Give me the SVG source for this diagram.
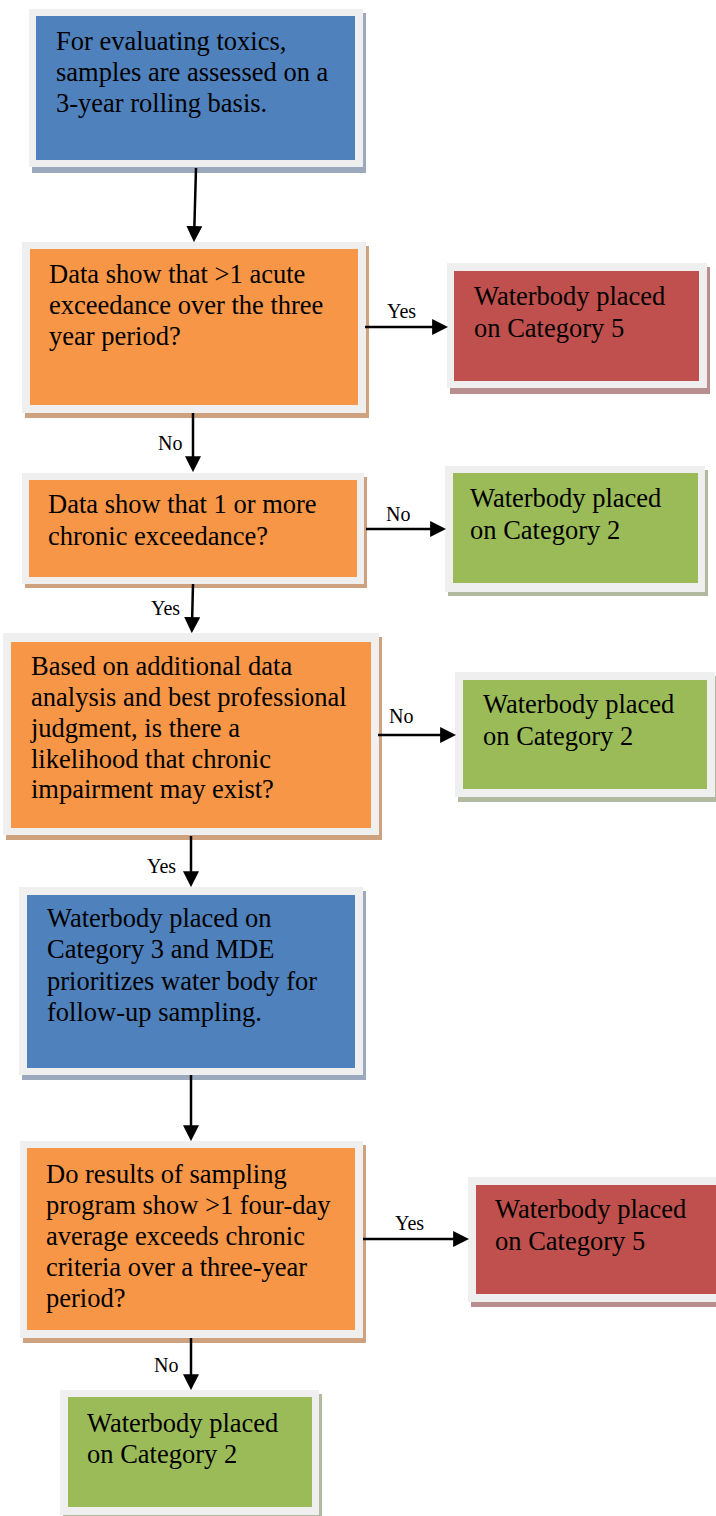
<svg xmlns="http://www.w3.org/2000/svg" width="716" height="1516" viewBox="0 0 716 1516">
<defs>
<style>
.frame{fill:#efefef}
.t{font-family:"Liberation Serif","DejaVu Serif",serif;font-size:26.5px;fill:#000}
.lb{font-family:"Liberation Serif","DejaVu Serif",serif;font-size:20px;fill:#000}
.blue{fill:#4f81bd}.blueS{fill:#9ba8bd}
.orange{fill:#f79646}.orangeS{fill:#cfa27f}
.red{fill:#c0504d}.redS{fill:#b98e8e}
.green{fill:#9bbb59}.greenS{fill:#b1b99e}
.c{stroke:#000;stroke-width:2.5;fill:none;marker-end:url(#ah)}
</style>
<marker id="ah" markerUnits="userSpaceOnUse" markerWidth="16" markerHeight="16" viewBox="0 0 14 14" refX="6" refY="7" orient="auto">
<path d="M0,0 L14,7 L0,14 z" fill="#000"/>
</marker>
</defs>
<rect width="716" height="1516" fill="#fff"/>

<g id="n1">
<rect class="blueS" x="32" y="13" width="334" height="160"/>
<rect class="frame" x="29" y="9" width="334" height="158"/>
<rect class="blue" x="36" y="16" width="319" height="144"/>
<text class="t" x="56" y="50">For evaluating toxics,</text>
<text class="t" x="56" y="81">samples are assessed on a</text>
<text class="t" x="56" y="112">3-year rolling basis.</text>
</g>

<g id="n2">
<rect class="orangeS" x="25" y="246" width="344" height="172"/>
<rect class="frame" x="22" y="242" width="344" height="171"/>
<rect class="orange" x="30" y="249" width="328" height="156"/>
<text class="t" x="49" y="283">Data show that &gt;1 acute</text>
<text class="t" x="49" y="314">exceedance over the three</text>
<text class="t" x="49" y="345">year period?</text>
</g>

<g id="n3">
<rect class="redS" x="450" y="267" width="260" height="127"/>
<rect class="frame" x="447" y="263" width="260" height="125"/>
<rect class="red" x="454" y="271" width="245" height="110"/>
<text class="t" x="474" y="305">Waterbody placed</text>
<text class="t" x="474" y="337">on Category 5</text>
</g>

<g id="n4">
<rect class="orangeS" x="25" y="477" width="342" height="111"/>
<rect class="frame" x="22" y="473" width="342" height="111"/>
<rect class="orange" x="29" y="480" width="328" height="97"/>
<text class="t" x="48" y="513">Data show that 1 or more</text>
<text class="t" x="48" y="545">chronic exceedance?</text>
</g>

<g id="n5">
<rect class="greenS" x="448" y="470" width="260" height="126"/>
<rect class="frame" x="445" y="466" width="260" height="126"/>
<rect class="green" x="453" y="473" width="245" height="110"/>
<text class="t" x="470" y="507">Waterbody placed</text>
<text class="t" x="470" y="539">on Category 2</text>
</g>

<g id="n6">
<rect class="orangeS" x="6" y="637" width="376" height="203"/>
<rect class="frame" x="3" y="633" width="376" height="202"/>
<rect class="orange" x="11" y="642" width="360" height="186"/>
<text class="t" x="31" y="675">Based on additional data</text>
<text class="t" x="31" y="706">analysis and best professional</text>
<text class="t" x="31" y="737">judgment, is there a</text>
<text class="t" x="31" y="768">likelihood that chronic</text>
<text class="t" x="31" y="798">impairment may exist?</text>
</g>

<g id="n7">
<rect class="greenS" x="458" y="676" width="260" height="126"/>
<rect class="frame" x="455" y="672" width="260" height="125"/>
<rect class="green" x="463" y="680" width="244" height="109"/>
<text class="t" x="483" y="713">Waterbody placed</text>
<text class="t" x="483" y="745">on Category 2</text>
</g>

<g id="n8">
<rect class="blueS" x="22" y="891" width="344" height="189"/>
<rect class="frame" x="19" y="887" width="344" height="188"/>
<rect class="blue" x="27" y="895" width="328" height="173"/>
<text class="t" x="47" y="927">Waterbody placed on</text>
<text class="t" x="47" y="958">Category 3 and MDE</text>
<text class="t" x="47" y="990">prioritizes water body for</text>
<text class="t" x="47" y="1021">follow-up sampling.</text>
</g>

<g id="n9">
<rect class="orangeS" x="23" y="1145" width="343" height="198"/>
<rect class="frame" x="20" y="1141" width="343" height="197"/>
<rect class="orange" x="27" y="1148" width="328" height="182"/>
<text class="t" x="46" y="1183">Do results of sampling</text>
<text class="t" x="46" y="1214">program show &gt;1 four-day</text>
<text class="t" x="46" y="1245">average exceeds chronic</text>
<text class="t" x="46" y="1276">criteria over a three-year</text>
<text class="t" x="46" y="1307">period?</text>
</g>

<g id="n10">
<rect class="redS" x="471" y="1181" width="270" height="126"/>
<rect class="frame" x="468" y="1177" width="270" height="125"/>
<rect class="red" x="476" y="1185" width="262" height="109"/>
<text class="t" x="495" y="1218">Waterbody placed</text>
<text class="t" x="495" y="1250">on Category 5</text>
</g>

<g id="n11">
<rect class="greenS" x="63" y="1394" width="259" height="126"/>
<rect class="frame" x="60" y="1390" width="259" height="125"/>
<rect class="green" x="68" y="1397" width="244" height="110"/>
<text class="t" x="87" y="1432">Waterbody placed</text>
<text class="t" x="87" y="1463">on Category 2</text>
</g>

<g id="connectors">
<path class="c" d="M196,168 L194.2,233"/>
<path class="c" d="M193,413 L193,463"/>
<path class="c" d="M193,584 L192,624"/>
<path class="c" d="M191,836 L191,878"/>
<path class="c" d="M191,1075 L191,1132"/>
<path class="c" d="M191,1338 L191,1381"/>
<path class="c" d="M365,327 L439,327"/>
<path class="c" d="M366,529 L437,529"/>
<path class="c" d="M378,735 L447,735"/>
<path class="c" d="M363,1239 L460,1239"/>
<text class="lb" x="387" y="318">Yes</text>
<text class="lb" x="158" y="450">No</text>
<text class="lb" x="386" y="521">No</text>
<text class="lb" x="151" y="615">Yes</text>
<text class="lb" x="389" y="723">No</text>
<text class="lb" x="147" y="873">Yes</text>
<text class="lb" x="395" y="1230">Yes</text>
<text class="lb" x="154" y="1372">No</text>
</g>
</svg>
